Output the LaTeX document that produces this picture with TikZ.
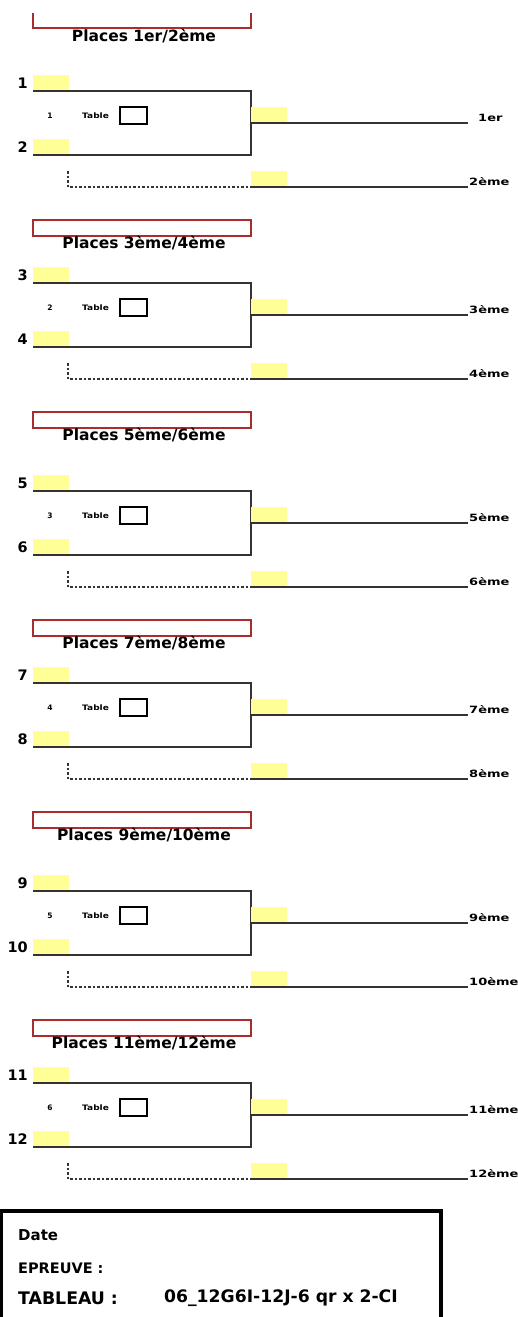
\documentclass[tikz,border=0pt]{standalone}
\usepackage{fontspec}
\usepackage{graphicx}
\setmainfont{DejaVu Sans}
\definecolor{boxred}{RGB}{170,45,45}
\definecolor{slotyellow}{RGB}{255,255,150}
\newcommand{\wide}[2]{\scalebox{#1}[1]{#2}}
\tikzset{
  slot/.style={fill=slotyellow, minimum width=36pt, minimum height=16pt, inner sep=0pt, anchor=south west},
  bracket/.style={line width=1.7pt, black!80},
  dotline/.style={line width=1.3pt, black!80, dash pattern=on 2.5pt off 2pt},
  redbox/.style={line width=1.6pt, boxred},
  title/.style={font=\fontsize{15.5}{16}\bfseries, inner sep=0pt},
  num/.style={font=\fontsize{14.5}{15}\bfseries, inner sep=0pt, anchor=east},
  place/.style={font=\fontsize{10}{10}\bfseries, inner sep=0pt, anchor=base west},
  tinytxt/.style={font=\fontsize{7.5}{8}\bfseries, inner sep=0pt},
  tbox/.style={draw, line width=1.2pt, minimum width=27pt, minimum height=17pt, inner sep=0pt},
  info/.style={font=\fontsize{15}{15}\bfseries, inner sep=0pt, anchor=west}
}
\begin{document}
\begin{tikzpicture}[x=1pt,y=-1pt]
  \useasboundingbox (0,0) rectangle (518,1317);
  \clip (0,0) rectangle (518,1317);
  \foreach \t/\r/\a/\b/\w/\l/\lx [count=\k] in {91/13/1/2/1er/2ème/478, 283/220/3/4/3ème/4ème/469,
      491/412/5/6/5ème/6ème/469, 683/620/7/8/7ème/8ème/469,
      891/812/9/10/9ème/10ème/469, 1083/1020/11/12/11ème/12ème/469} {
    % titre
    \ifnum\a=1
      \draw[redbox] (33,\r) -- (33,\r+15) -- (251,\r+15) -- (251,\r);
    \else
      \draw[redbox] (33,\r) rectangle (251,\r+16);
    \fi
    \node[title] (title\k) at (144,\r+23) {Places \w/\l};
    % joueurs
    \node[slot] (sa\k) at (33,\t) {};
    \node[slot] (sb\k) at (33,\t+64) {};
    \node[num] (na\k) at (28,\t-8) {\a};
    \node[num] (nb\k) at (28,\t+56) {\b};
    \coordinate (tr\k) at (251,\t);
    \draw[bracket] (sa\k.south west) -- (tr\k) |- (sb\k.south west);
    \node[tinytxt] (mk\k) at (50,\t+25) {\k};
    \node[tinytxt, anchor=west] (tl\k) at (82,\t+25) {\wide{1.2}{Table}};
    \node[tbox] (tb\k) at (133.5,\t+24.5) {};
    % vainqueur
    \node[slot] (sw\k) at (251,\t+32) {};
    \coordinate (win\k) at (468,\t+32);
    \draw[bracket] (sw\k.south west) -- (win\k);
    \node[place] (pw\k) at (\lx,\t+30) {\wide{1.3}{\w}};
    % perdant
    \node[slot] (sl\k) at (251,\t+96) {};
    \coordinate (lose\k) at (468,\t+96);
    \coordinate (dt\k) at (68,\t+80);
    \draw[dotline] (dt\k) |- (sl\k.south west);
    \draw[bracket] (sl\k.south west) -- (lose\k);
    \node[place] (pl\k) at (469,\t+94) {\wide{1.3}{\l}};
  }
  % cartouche
  \draw[line width=3.2pt] (1.6,1211) rectangle (441,1340);
  \node[info] (date) at (18,1235) {Date};
  \node[info, font=\fontsize{14.5}{15}\bfseries] (epreuve) at (18,1268) {EPREUVE :};
  \node[info, font=\fontsize{17.3}{18}\bfseries] (tableau) at (18,1298) {TABLEAU :};
  \node[info, font=\fontsize{17.2}{18}\bfseries] (code) at (164,1298) {06\_12G6I-12J-6 qr x 2-CI};
\end{tikzpicture}
\end{document}
